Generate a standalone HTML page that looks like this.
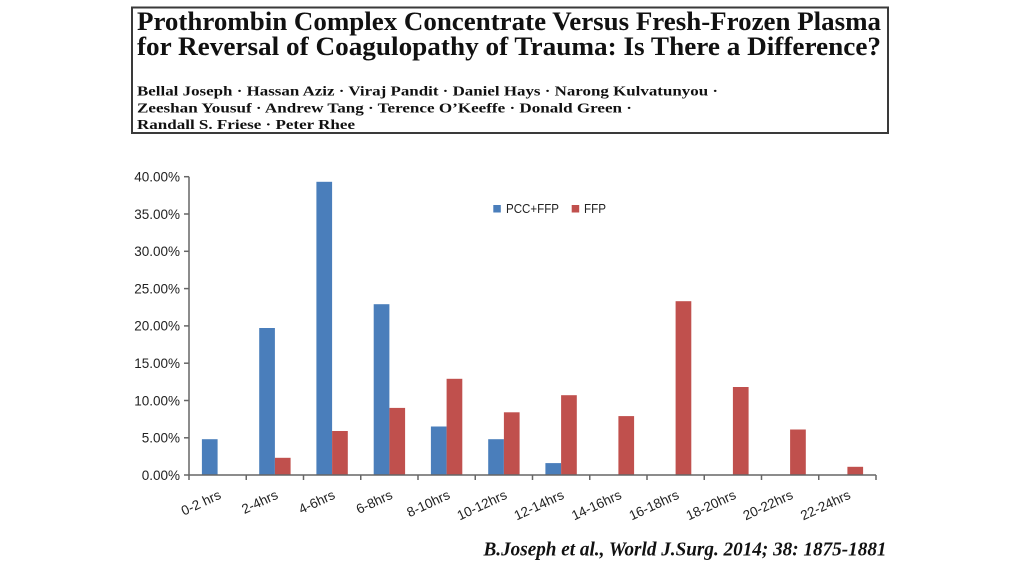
<!DOCTYPE html>
<html>
<head>
<meta charset="utf-8">
<style>
html,body{margin:0;padding:0;background:#fff;}
svg{display:block;}
</style>
</head>
<body>
<svg width="1024" height="574" viewBox="0 0 1024 574" xmlns="http://www.w3.org/2000/svg">
<rect x="0" y="0" width="1024" height="574" fill="#fff"/>
<!-- Title box -->
<rect x="132" y="7.5" width="756" height="125.5" fill="#fff" stroke="#3a3a3a" stroke-width="2"/>
<g font-family="'Liberation Serif', serif" font-weight="bold" fill="#111">
<text x="137" y="30" font-size="26" textLength="744" lengthAdjust="spacingAndGlyphs">Prothrombin Complex Concentrate Versus Fresh-Frozen Plasma</text>
<text x="137" y="55" font-size="26" textLength="744" lengthAdjust="spacingAndGlyphs">for Reversal of Coagulopathy of Trauma: Is There a Difference?</text>
<text x="137" y="95.5" font-size="14" textLength="581" lengthAdjust="spacingAndGlyphs">Bellal Joseph · Hassan Aziz · Viraj Pandit · Daniel Hays · Narong Kulvatunyou ·</text>
<text x="137" y="112.5" font-size="14" textLength="495" lengthAdjust="spacingAndGlyphs">Zeeshan Yousuf · Andrew Tang · Terence O’Keeffe · Donald Green ·</text>
<text x="137" y="129" font-size="14" textLength="218" lengthAdjust="spacingAndGlyphs">Randall S. Friese · Peter Rhee</text>
</g>

<!-- Bars blue -->
<g fill="#4a7ebb">
<rect x="201.9" y="439.2" width="15.7" height="35.8"/>
<rect x="259.2" y="328" width="15.7" height="147"/>
<rect x="316.4" y="181.8" width="15.7" height="293.2"/>
<rect x="373.7" y="304.2" width="15.7" height="170.8"/>
<rect x="430.9" y="426.5" width="15.7" height="48.5"/>
<rect x="488.2" y="439.2" width="15.7" height="35.8"/>
<rect x="545.4" y="463.1" width="15.7" height="11.9"/>
</g>
<!-- Bars red -->
<g fill="#c0504d">
<rect x="274.9" y="457.8" width="15.7" height="17.2"/>
<rect x="332.1" y="431" width="15.7" height="44"/>
<rect x="389.4" y="407.9" width="15.7" height="67.1"/>
<rect x="446.6" y="378.8" width="15.7" height="96.2"/>
<rect x="503.9" y="412.3" width="15.7" height="62.7"/>
<rect x="561.1" y="395.2" width="15.7" height="79.8"/>
<rect x="618.4" y="416.1" width="15.7" height="58.9"/>
<rect x="675.6" y="301.2" width="15.7" height="173.8"/>
<rect x="732.9" y="387" width="15.7" height="88"/>
<rect x="790.1" y="429.5" width="15.7" height="45.5"/>
<rect x="847.4" y="466.8" width="15.7" height="8.2"/>
</g>

<!-- Axes -->
<g stroke="#666" stroke-width="1.5" fill="none">
<line x1="189" y1="176.7" x2="189" y2="475"/>
<line x1="189" y1="475" x2="876" y2="475"/>
<line x1="184" y1="176.7" x2="189" y2="176.7"/>
<line x1="184" y1="214" x2="189" y2="214"/>
<line x1="184" y1="251.3" x2="189" y2="251.3"/>
<line x1="184" y1="288.6" x2="189" y2="288.6"/>
<line x1="184" y1="325.9" x2="189" y2="325.9"/>
<line x1="184" y1="363.2" x2="189" y2="363.2"/>
<line x1="184" y1="400.5" x2="189" y2="400.5"/>
<line x1="184" y1="437.8" x2="189" y2="437.8"/>
<line x1="184" y1="475" x2="189" y2="475"/>
<line x1="189" y1="475" x2="189" y2="480"/>
<line x1="246.25" y1="475" x2="246.25" y2="480"/>
<line x1="303.5" y1="475" x2="303.5" y2="480"/>
<line x1="360.75" y1="475" x2="360.75" y2="480"/>
<line x1="418" y1="475" x2="418" y2="480"/>
<line x1="475.25" y1="475" x2="475.25" y2="480"/>
<line x1="532.5" y1="475" x2="532.5" y2="480"/>
<line x1="589.75" y1="475" x2="589.75" y2="480"/>
<line x1="647" y1="475" x2="647" y2="480"/>
<line x1="704.25" y1="475" x2="704.25" y2="480"/>
<line x1="761.5" y1="475" x2="761.5" y2="480"/>
<line x1="818.75" y1="475" x2="818.75" y2="480"/>
<line x1="876" y1="475" x2="876" y2="480"/>
</g>

<!-- Y labels -->
<g font-family="'Liberation Sans', sans-serif" font-size="13.5" fill="#222" text-anchor="end">
<text x="180" y="181.5">40.00%</text>
<text x="180" y="218.8">35.00%</text>
<text x="180" y="256.1">30.00%</text>
<text x="180" y="293.4">25.00%</text>
<text x="180" y="330.7">20.00%</text>
<text x="180" y="368">15.00%</text>
<text x="180" y="405.3">10.00%</text>
<text x="180" y="442.6">5.00%</text>
<text x="180" y="479.8">0.00%</text>
</g>

<!-- X labels -->
<g font-family="'Liberation Sans', sans-serif" font-size="13.5" fill="#222" text-anchor="end">
<text transform="translate(222,498) rotate(-25)">0-2 hrs</text>
<text transform="translate(279,498) rotate(-25)">2-4hrs</text>
<text transform="translate(336,498) rotate(-25)">4-6hrs</text>
<text transform="translate(393.5,498) rotate(-25)">6-8hrs</text>
<text transform="translate(451,498) rotate(-25)">8-10hrs</text>
<text transform="translate(508,498) rotate(-25)">10-12hrs</text>
<text transform="translate(565,498) rotate(-25)">12-14hrs</text>
<text transform="translate(622.5,498) rotate(-25)">14-16hrs</text>
<text transform="translate(680,498) rotate(-25)">16-18hrs</text>
<text transform="translate(737,498) rotate(-25)">18-20hrs</text>
<text transform="translate(794,498) rotate(-25)">20-22hrs</text>
<text transform="translate(851.5,498) rotate(-25)">22-24hrs</text>
</g>

<!-- Legend -->
<rect x="493.3" y="205" width="7.5" height="7.5" fill="#4a7ebb"/>
<rect x="571.7" y="205" width="7.5" height="7.5" fill="#c0504d"/>
<g font-family="'Liberation Sans', sans-serif" font-size="13" fill="#222">
<text x="506" y="213" textLength="53" lengthAdjust="spacingAndGlyphs">PCC+FFP</text>
<text x="584" y="213" textLength="22" lengthAdjust="spacingAndGlyphs">FFP</text>
</g>

<!-- Citation -->
<text x="483.5" y="555.5" font-family="'Liberation Serif', serif" font-weight="bold" font-style="italic" font-size="20" fill="#111" textLength="403" lengthAdjust="spacingAndGlyphs">B.Joseph et al., World J.Surg. 2014; 38: 1875-1881</text>
</svg>
</body>
</html>
